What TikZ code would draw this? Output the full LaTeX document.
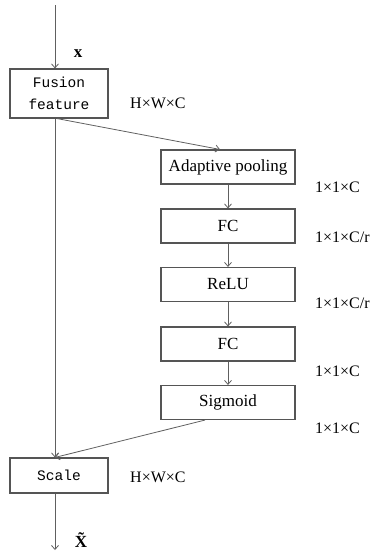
\documentclass[tikz,border=0pt]{standalone}
\usepackage{fontspec}
\setmainfont{Liberation Serif}
\newfontfamily\monof{Liberation Mono}
\usetikzlibrary{arrows.meta,calc}
\definecolor{ln}{HTML}{555555}
\definecolor{ar}{HTML}{606060}
\begin{document}
\begin{tikzpicture}[x=1pt,y=-1pt,
  box/.style={draw=ln, line width=1.1pt, minimum width=134pt, minimum height=34pt, inner sep=0pt, font=\fontsize{17}{20}\selectfont},
  mbox/.style={draw=ln, line width=1.1pt, minimum width=98pt, inner sep=0pt, font=\monof\fontsize{14.5}{22}\selectfont, align=center},
  arr/.style={draw=ar, line width=0.8pt, -{Straight Barb[length=4pt,width=7pt]}},
  lab/.style={font=\fontsize{16}{18}\selectfont, anchor=west, inner sep=0pt}]
\useasboundingbox (0,0) rectangle (372,555);
% left column
\node[mbox, minimum height=49pt] (fus) at (59,93.5) {Fusion\\feature};
\node[mbox, minimum height=35pt] (sc) at (59,475.5) {Scale};
% right column
\node[box] (ap)   at (228,167)   {Adaptive pooling};
\node[box] (fc1)  at (228,226)   {FC};
\node[box] (relu) at (228,284.5) {ReLU};
\node[box] (fc2)  at (228,344)   {FC};
\node[box] (sig)  at (228,402.5) {Sigmoid};
% main line
\coordinate (top) at (55,5);
\coordinate (bot) at (55,550);
\draw[arr] (top) -- (top |- fus.north);
\draw[arr] (top |- fus.south) -- (top |- sc.north);
\draw[arr] (top |- sc.south) -- (bot);
% branch
\draw[arr] ($(fus.south)+(-2,0)$) -- ($(ap.north)+(-8,0)$);
\draw[arr] (ap) -- (fc1);
\draw[arr] (fc1) -- (relu);
\draw[arr] (relu) -- (fc2);
\draw[arr] (fc2) -- (sig);
\draw[arr] ($(sig.south)+(-23,0)$) -- (top |- sc.north);
% labels
\node[font=\fontsize{17}{20}\selectfont\bfseries, inner sep=0pt] (xl) at (78,54) {x};
\node[font=\fontsize{17}{20}\selectfont\bfseries, inner sep=0pt] (xt) at (81,540) {\~{X}};
\node[lab] (l1) at (130,103) {H×W×C};
\node[lab] (l2) at (315,187) {1×1×C};
\node[lab] (l3) at (315,237) {1×1×C/r};
\node[lab] (l4) at (315,303) {1×1×C/r};
\node[lab] (l5) at (315,371) {1×1×C};
\node[lab] (l6) at (315,428) {1×1×C};
\node[lab] (l7) at (130,477) {H×W×C};
\end{tikzpicture}
\end{document}
